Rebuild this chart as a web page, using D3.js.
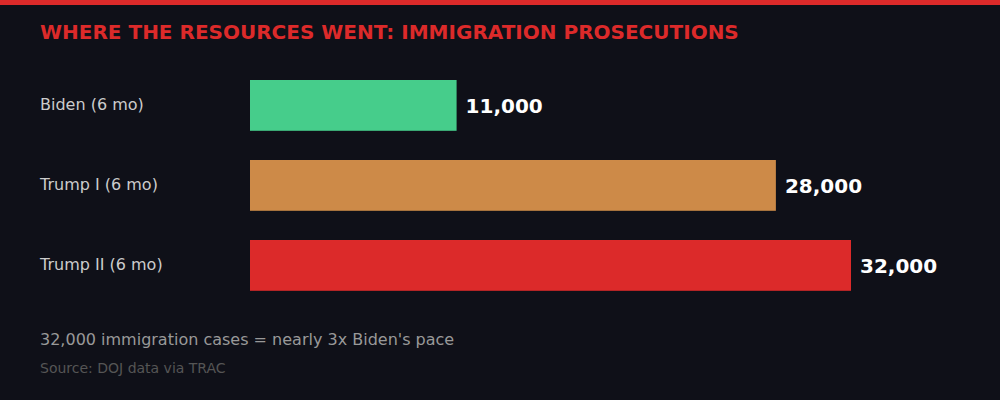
<!DOCTYPE html>
<html>
<head>
<meta charset="utf-8">
<script src="https://cdn.jsdelivr.net/npm/d3@7"></script>
<style>
	body { margin: 0; background: #0f1018; }
	svg { display: block; font-family: "DejaVu Sans", sans-serif; }
</style>
</head>
<body>
<script>
(function() {

	// data
	var categories = ["Biden (6 mo)", "Trump I (6 mo)", "Trump II (6 mo)"];
	var values = [11000, 28000, 32000];
	var valueLabels = ["11,000", "28,000", "32,000"];
	var barColors = ["#46cd8b", "#cd8a48", "#dc2a2a"];

	var title = "WHERE THE RESOURCES WENT: IMMIGRATION PROSECUTIONS";
	var note = "32,000 immigration cases = nearly 3x Biden's pace";
	var source = "Source: DOJ data via TRAC";

	var width = 1000;
	var height = 400;

	var svg = d3.select("body")
		.append("svg")
		.attr("width", width)
		.attr("height", height);

	// background + top stripe
	svg.append("rect")
		.attr("width", width)
		.attr("height", height)
		.attr("fill", "#0f1018");

	svg.append("rect")
		.attr("width", width)
		.attr("height", 5)
		.attr("fill", "#dc2a2a");

	svg.append("text")
		.attr("x", 40)
		.attr("y", 39)
		.attr("fill", "#dc2a2a")
		.style("font-size", "20px")
		.style("font-weight", "bold")
		.text(title);

	// scales
	var x = d3.scaleLinear()
		.domain([0, 32000])
		.range([250, 851]);

	var y = d3.scaleBand()
		.domain(categories)
		.range([65, 305])
		.paddingInner(0.375)
		.paddingOuter(0.1875);

	var rows = svg.selectAll(".row")
		.data(categories)
		.enter()
		.append("g")
		.attr("class", "row");

	rows.append("rect")
		.attr("x", x(0))
		.attr("y", function(d) { return y(d); })
		.attr("width", function(d, i) { return x(values[i]) - x(0); })
		.attr("height", y.bandwidth() + 0.8)
		.attr("fill", function(d, i) { return barColors[i]; });

	rows.append("text")
		.attr("x", 40)
		.attr("y", function(d) { return y(d) + y.bandwidth() / 2 + 4.5; })
		.attr("fill", "#cccccc")
		.style("font-size", "16px")
		.text(function(d) { return d; });

	rows.append("text")
		.attr("x", function(d, i) { return x(values[i]) + 9; })
		.attr("y", function(d) { return y(d) + y.bandwidth() / 2 + 8; })
		.attr("fill", "#ffffff")
		.style("font-size", "20px")
		.style("font-weight", "bold")
		.text(function(d, i) { return valueLabels[i]; });

	// footer
	svg.append("text")
		.attr("x", 40)
		.attr("y", 345)
		.attr("fill", "#999999")
		.style("font-size", "16px")
		.text(note);

	svg.append("text")
		.attr("x", 40)
		.attr("y", 373)
		.attr("fill", "#555555")
		.style("font-size", "14px")
		.text(source);

})();
</script>
</body>
</html>
